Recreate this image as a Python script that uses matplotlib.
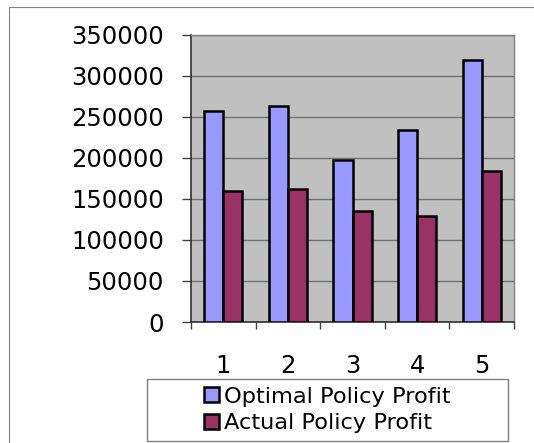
import matplotlib.pyplot as plt
import matplotlib.patches as mpatches
import numpy as np

plt.rcParams['font.family'] = ['DejaVu Sans']

# data
categories = ['1', '2', '3', '4', '5']
optimal = [257000, 263000, 197000, 234500, 319500]
actual = [160000, 162500, 135500, 129000, 184000]
series_names = ['Optimal Policy Profit', 'Actual Policy Profit']
yticks = [0, 50000, 100000, 150000, 200000, 250000, 300000, 350000]

W, H = 534, 443
fig = plt.figure(figsize=(W / 100, H / 100), dpi=100)
ax = fig.add_axes([191 / W, 1 - 322 / H, (514 - 191) / W, (322 - 35) / H])

# outer chart frame
fig.patches.append(mpatches.Rectangle((9 / W, -0.05), 1.2, 1 - 7 / H + 0.05,
                                      transform=fig.transFigure, fill=False,
                                      edgecolor='#808080', linewidth=0.8))

x = np.arange(len(categories))
bw = 0.295
ax.bar(x - bw / 2, optimal, bw, color='#9999FF', edgecolor='black', linewidth=1.8,
       label=series_names[0], zorder=3)
ax.bar(x + bw / 2, actual, bw, color='#993366', edgecolor='black', linewidth=1.8,
       label=series_names[1], zorder=3)

ax.set_facecolor('#C0C0C0')
ax.set_xlim(-0.5, len(categories) - 0.5)
ax.set_ylim(0, 350000)
ax.set_yticks(yticks)
ax.set_yticklabels([str(v) for v in yticks], fontsize=17.5)
ax.yaxis.grid(True, color='#707070', linewidth=1.0, zorder=1)
ax.set_axisbelow(True)

# category ticks between groups, labels centred
ax.set_xticks(np.arange(-0.5, len(categories), 1.0))
ax.set_xticklabels([])
ax.set_xticks(x, minor=True)
ax.set_xticklabels(categories, minor=True, fontsize=17.5)
ax.tick_params(axis='x', which='minor', length=0, pad=23)
ax.tick_params(axis='x', which='major', length=5, width=1, color='#404040')
ax.tick_params(axis='y', length=6.5, width=1, color='#404040', pad=13)

for s in ['top', 'right']:
    ax.spines[s].set_color('#808080')
    ax.spines[s].set_linewidth(1.0)
for s in ['left', 'bottom']:
    ax.spines[s].set_color('#303030')
    ax.spines[s].set_linewidth(1.2)

# legend box
fig.patches.append(mpatches.Rectangle((147 / W, 1 - 441 / H), (508 - 147) / W, (441 - 379) / H,
                                      transform=fig.transFigure, fill=True, facecolor='white',
                                      edgecolor='#808080', linewidth=1.0))
leg = fig.legend(loc='center', bbox_to_anchor=(327.5 / W, 1 - 410 / H), frameon=False,
                 fontsize=16.2, handlelength=0.65, handleheight=0.65, handletextpad=0.25,
                 labelspacing=0.3, borderaxespad=0)
leg.set_zorder(5)

fig.savefig('out.png', dpi=100)
